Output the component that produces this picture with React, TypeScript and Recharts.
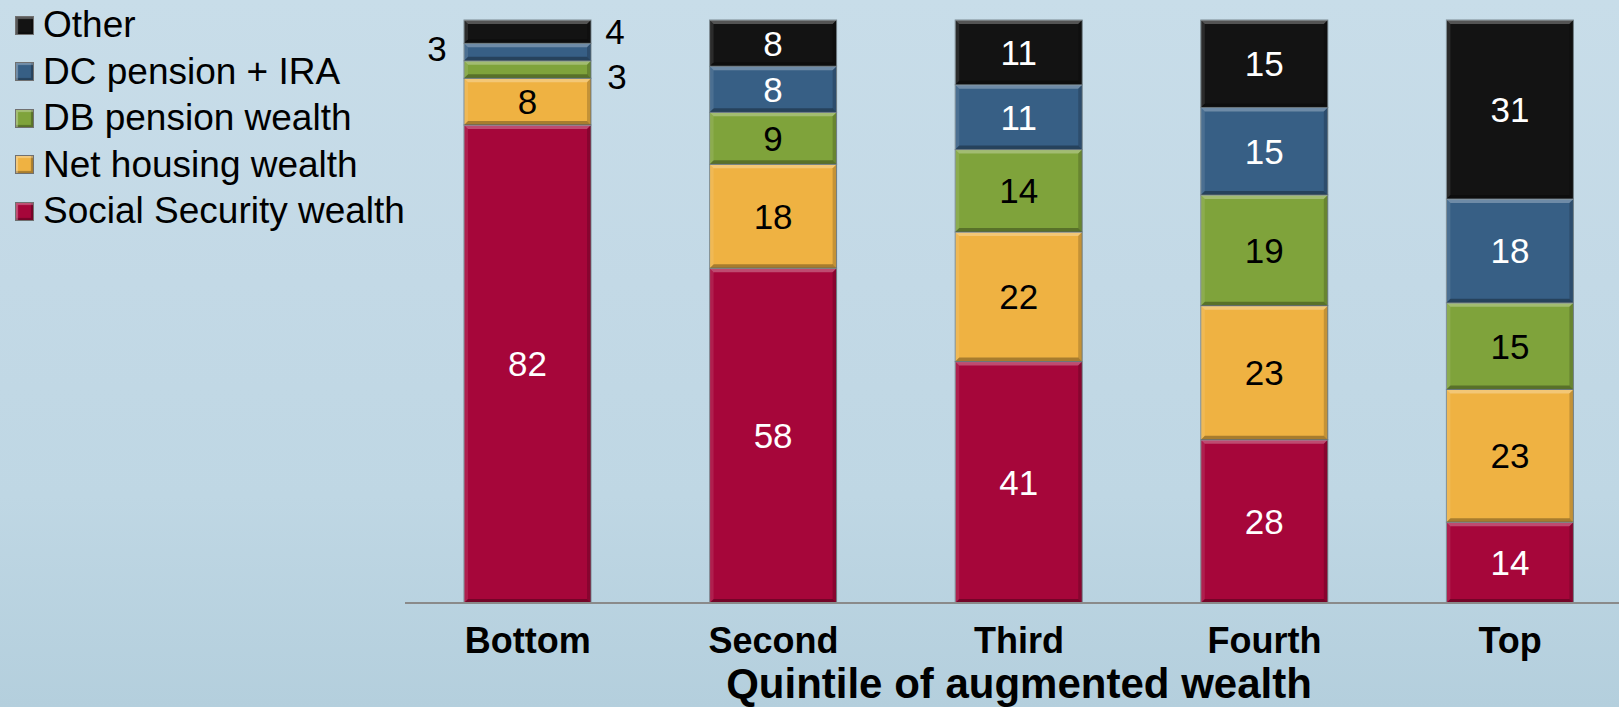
import React from 'react';
import { BarChart, Bar, XAxis, YAxis, LabelList, Label } from 'recharts';

const categories = ['Bottom', 'Second', 'Third', 'Fourth', 'Top'];
const socialSecurity = [82, 58, 41, 28, 14];
const netHousing = [8, 18, 22, 23, 23];
const dbPension = [3, 9, 14, 19, 15];
const dcPension = [3, 8, 11, 15, 18];
const other = [4, 8, 11, 15, 31];

const seriesNames = {
  other: 'Other',
  dc: 'DC pension + IRA',
  db: 'DB pension wealth',
  housing: 'Net housing wealth',
  ss: 'Social Security wealth',
};

const COLORS = {
  other: '#131313',
  dc: '#375f85',
  db: '#7fa33b',
  housing: '#efb242',
  ss: '#a6063a',
};

const LABEL_FILL = {
  other: '#ffffff',
  dc: '#ffffff',
  db: '#000000',
  housing: '#000000',
  ss: '#ffffff',
};

const data = categories.map((c, i) => ({
  name: c,
  ss: socialSecurity[i],
  housing: netHousing[i],
  db: dbPension[i],
  dc: dcPension[i],
  other: other[i],
}));

const FONT = '"Liberation Sans", Arial, sans-serif';

const BevelBar = (props: any) => {
  const { x, y, width, height, fill } = props;
  if (!height || height <= 0) return null;
  const b = Math.min(4, height / 4);
  const x2 = x + width;
  const y2 = y + height;
  return (
    <g>
      <rect x={x} y={y} width={width} height={height} fill={fill} stroke="#7b8a92" strokeWidth={1} />
      <polygon points={`${x},${y} ${x2},${y} ${x2 - b},${y + b} ${x + b},${y + b}`} fill="#ffffff" opacity={0.28} />
      <polygon points={`${x},${y2} ${x2},${y2} ${x2 - b},${y2 - b} ${x + b},${y2 - b}`} fill="#000000" opacity={0.3} />
      <polygon points={`${x},${y} ${x + b},${y + b} ${x + b},${y2 - b} ${x},${y2}`} fill="#ffffff" opacity={0.1} />
      <polygon points={`${x2},${y} ${x2 - b},${y + b} ${x2 - b},${y2 - b} ${x2},${y2}`} fill="#000000" opacity={0.18} />
    </g>
  );
};

const makeLabel = (key: string) => (props: any) => {
  const { x, y, width, height, value, index } = props;
  let cx = x + width / 2;
  let cy = y + height / 2;
  let fill = LABEL_FILL[key];
  if (index === 0) {
    if (key === 'other') { cx = x + width + 24; fill = '#000'; }
    if (key === 'dc') { cx = x - 27; cy -= 4; fill = '#000'; }
    if (key === 'db') { cx = x + width + 26; cy += 7; fill = '#000'; }
  }
  return (
    <text x={cx} y={cy} textAnchor="middle" dominantBaseline="central" fill={fill}
      style={{ fontFamily: FONT, fontSize: 35 }}>
      {value}
    </text>
  );
};

const Tick = (props: any) => {
  const { x, y, payload } = props;
  return (
    <text x={x} y={y + 41.5} textAnchor="middle" fill="#000"
      style={{ fontFamily: FONT, fontSize: 36, fontWeight: 'bold' }}>
      {payload.value}
    </text>
  );
};

const AxisTitle = (props: any) => {
  const { viewBox } = props;
  return (
    <text x={viewBox.x + viewBox.width / 2} y={viewBox.y + 95} textAnchor="middle" fill="#000"
      style={{ fontFamily: FONT, fontSize: 42, fontWeight: 'bold' }}>
      Quintile of augmented wealth
    </text>
  );
};

const legendKeys = ['other', 'dc', 'db', 'housing', 'ss'];

export default function App() {
  return (
    <div style={{
      position: 'absolute', left: 0, top: 0, width: 1619, height: 707, overflow: 'hidden',
      background: 'linear-gradient(180deg, #c8dde9 0%, #c3d9e6 40%, #bfd7e4 70%, #b4cfdd 100%)',
    }}>
      <div style={{ position: 'absolute', left: 0, top: 2, fontFamily: FONT, fontSize: 37, lineHeight: '46.5px', color: '#000' }}>
        {legendKeys.map((k) => (
          <div key={k} style={{ position: 'relative', height: 46.5, whiteSpace: 'nowrap' }}>
            <span style={{
              position: 'absolute', left: 15, top: 13.5, width: 19, height: 19, background: COLORS[k],
              boxSizing: 'border-box', border: '1px solid #707070',
              boxShadow: 'inset 2px 2px 1px rgba(255,255,255,0.3), inset -2px -2px 1px rgba(0,0,0,0.3)',
            }} />
            <span style={{ position: 'absolute', left: 43, top: 0 }}>{seriesNames[k]}</span>
          </div>
        ))}
      </div>
      <BarChart width={1640} height={707} data={data} stackOffset="expand" barSize={127}
        margin={{ top: 20, right: 7, left: 405, bottom: 44 }}>
        <XAxis dataKey="name" height={60} tickLine={false} axisLine={{ stroke: '#8a8a8a', strokeWidth: 2 }}
          tick={<Tick />} interval={0}>
          <Label content={<AxisTitle />} />
        </XAxis>
        <YAxis hide domain={[0, 1]} />
        {['ss', 'housing', 'db', 'dc', 'other'].map((k) => (
          <Bar key={k} dataKey={k} name={seriesNames[k]} stackId="a" fill={COLORS[k]}
            shape={<BevelBar />} isAnimationActive={false}>
            <LabelList dataKey={k} content={makeLabel(k)} />
          </Bar>
        ))}
      </BarChart>
    </div>
  );
}
